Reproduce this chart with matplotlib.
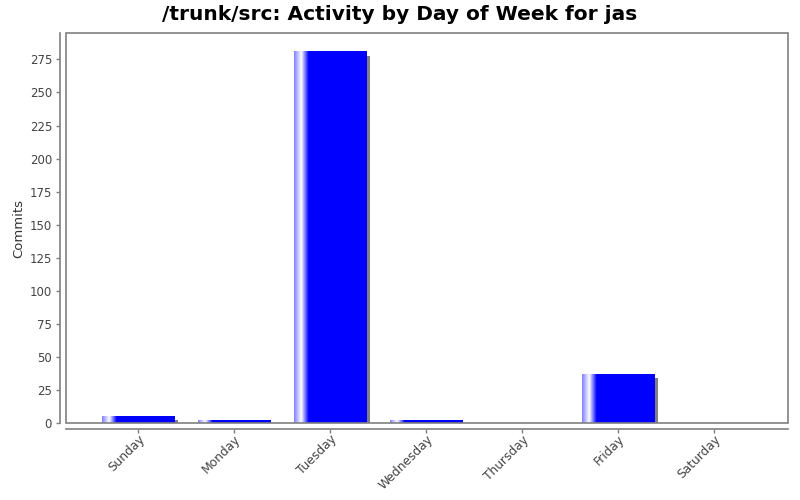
import numpy as np
import matplotlib
matplotlib.use("Agg")
import matplotlib.pyplot as plt
from matplotlib.patches import Rectangle
from matplotlib.transforms import offset_copy, blended_transform_factory

days = ["Sunday", "Monday", "Tuesday", "Wednesday", "Thursday", "Friday", "Saturday"]
commits = [5, 2, 281, 2, 0, 37, 0]
y_ticks = list(range(0, 276, 25))

title = "/trunk/src: Activity by Day of Week for jas"

grey = "#808080"
label_col = "#444444"

fig = plt.figure(figsize=(8, 5), dpi=100)
ax = fig.add_axes([66 / 800, 77 / 500, 722 / 800, 390 / 500])

x = np.arange(len(days))
width = 0.757

# shadow, shifted 4px right and 4px down
shadow = ax.bar(x, commits, width=width, color=grey, zorder=1, linewidth=0)
shift = offset_copy(ax.transData, fig=fig, x=4, y=-4, units="dots")
for p in shadow:
  p.set_transform(shift)

# gradient bars (blue -> white -> blue on the left edge)
n = 300
frac = np.linspace(0, 1, n)
light = np.interp(frac, [0, 0.1, 0.2, 1], [0.5, 1.0, 0.0, 0.0])
grad = np.zeros((1, n, 3))
grad[0, :, 0] = light
grad[0, :, 1] = light
grad[0, :, 2] = 1.0
for xi, h in zip(x, commits):
  if h > 0:
    ax.imshow(grad, extent=(xi - width / 2, xi + width / 2, 0, h),
              aspect="auto", interpolation="bilinear", zorder=2)

ax.set_xlim(-0.75, 6.77)
ax.set_ylim(0, 295)

ax.tick_params(colors=grey, labelcolor=label_col, labelsize=8.5, length=3, width=1, pad=3)
ax.set_yticks(y_ticks)
ax.set_xticks(x)
ax.tick_params(axis="x", labelbottom=False)

# rotated category labels (drawn as text so the alignment sticks)
lab_trans = offset_copy(blended_transform_factory(ax.transData, ax.transAxes),
                        fig=fig, x=0, y=-10, units="dots")
for xi, d in zip(x, days):
  ax.text(xi, 0, d, transform=lab_trans, rotation=45, ha="right", va="top",
          rotation_mode="anchor", fontsize=8.8, color=label_col, clip_on=False)

for s in ["top", "right"]:
  ax.spines[s].set_visible(False)
for s in ["left", "bottom"]:
  ax.spines[s].set_position(("outward", 4))
  ax.spines[s].set_color(grey)
  ax.spines[s].set_linewidth(1.2)

# plot outline
ax.add_patch(Rectangle((0, 0), 1, 1, transform=ax.transAxes, fill=False,
                       edgecolor=grey, linewidth=1.2, clip_on=False, zorder=5))

ax.set_ylabel("Commits", fontsize=9.5, color="#333333", labelpad=3)
fig.text(0.5, 0.972, title, ha="center", va="center", fontsize=14.5,
         fontweight="bold", color="black")

fig.savefig("out.png", dpi=100)
